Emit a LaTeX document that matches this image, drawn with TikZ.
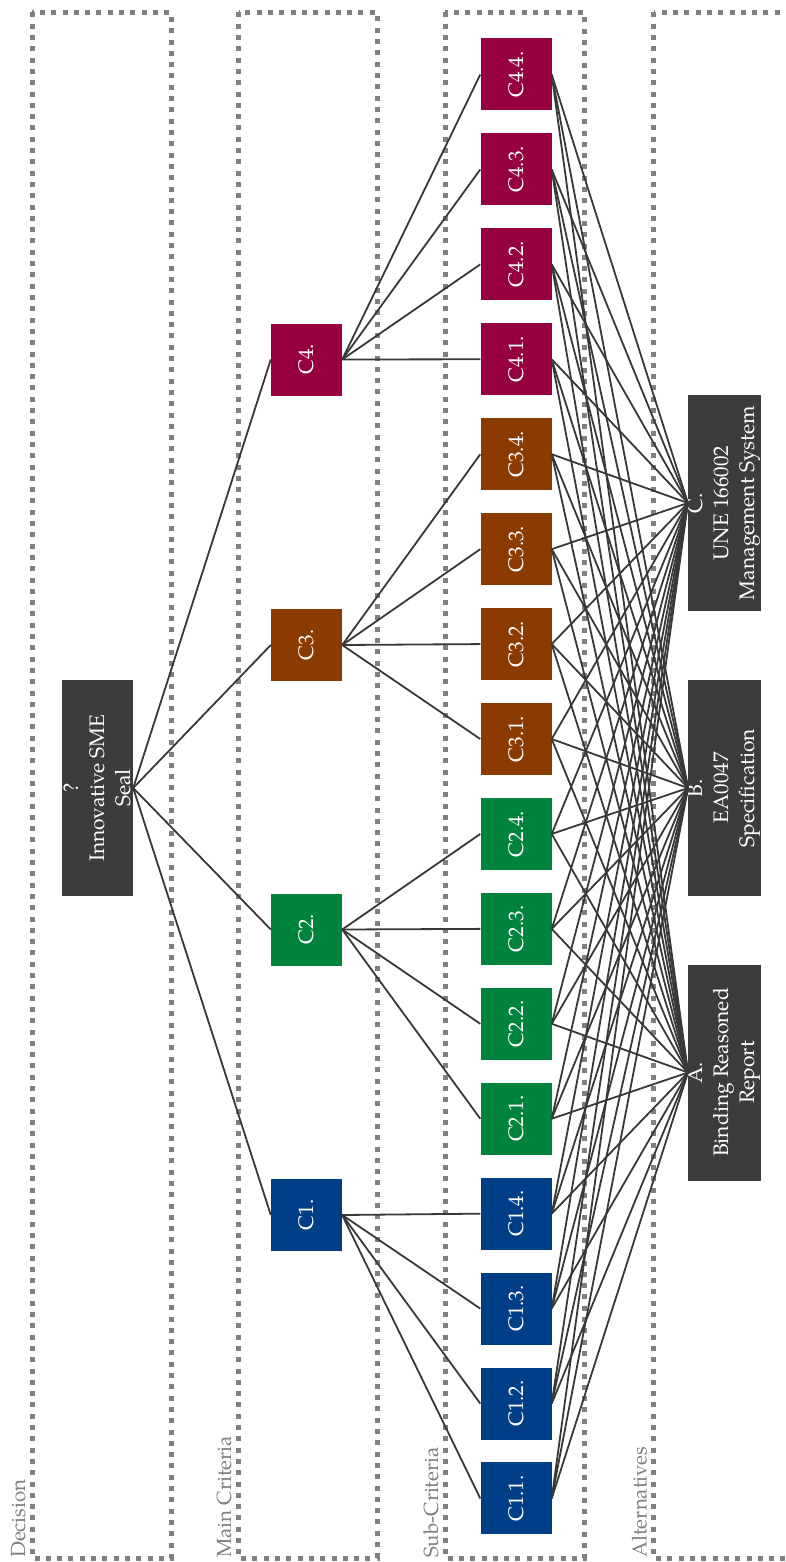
\documentclass[tikz,border=0pt]{standalone}
\usepackage{fontspec}
\setmainfont{TeX Gyre Pagella}
\definecolor{crit1}{HTML}{003F87}
\definecolor{crit2}{HTML}{00843D}
\definecolor{crit3}{HTML}{8C3B00}
\definecolor{crit4}{HTML}{970040}
\definecolor{darkbox}{HTML}{3C3C3C}
\definecolor{linkgray}{HTML}{383838}
\definecolor{framegray}{HTML}{808080}
\begin{document}
\begin{tikzpicture}[x=1pt,y=-1pt,
  % boxes are rotated by 90 degrees: their north side faces left, south faces right
  boxbase/.style={rotate=90, text=white, inner sep=0pt, align=center,
    font=\fontsize{21}{26}\selectfont},
  smallbox/.style={boxbase, minimum width=72pt, minimum height=71pt},
  bigbox/.style={boxbase, fill=darkbox, minimum width=216pt, minimum height=71pt},
  layerframe/.style={draw=framegray, line width=5pt, dash pattern=on 5pt off 6.3pt},
  layerlabel/.style={rotate=90, anchor=base west, inner sep=0pt, text=framegray,
    font=\fontsize{20.5}{24}\selectfont},
  link/.style={draw=linkgray, line width=1.8pt}
]
\useasboundingbox (0,0) rectangle (785,1562);
\clip (0,0) rectangle (785,1562);

% dotted level frames
\draw[layerframe] (32,12.5) rectangle (171,1558);
\draw[layerframe] (238.5,12.5) rectangle (377,1558);
\draw[layerframe] (445,12.5) rectangle (584.5,1558);
\draw[layerframe] (653.5,12.5) rectangle (900,1558);

% level captions
\node[layerlabel] (lblDec) at (25,1558) {Decision};
\node[layerlabel] (lblMain) at (231,1558) {Main Criteria};
\node[layerlabel] (lblSub) at (438,1558) {Sub-Criteria};
\node[layerlabel] (lblAlt) at (646.5,1558) {Alternatives};

% decision
\node[bigbox] (dec) at (97.5,788) {?\\Innovative SME\\Seal};

% main criteria
\node[smallbox, fill=crit4] (m4) at (306.5,359.5) {C4.};
\node[smallbox, fill=crit3] (m3) at (306.5,645) {C3.};
\node[smallbox, fill=crit2] (m2) at (306.5,929.5) {C2.};
\node[smallbox, fill=crit1] (m1) at (306.5,1215) {C1.};

% sub-criteria, top (C4.4.) to bottom (C1.1.)
\foreach \k in {0,...,15} {
  \pgfmathtruncatemacro\g{4-int(\k/4)}
  \pgfmathtruncatemacro\j{4-mod(\k,4)}
  \node[smallbox, fill=crit\g] (s\g\j) at (516, 74.5+94.93*\k) {C\g.\j.};
}

% alternatives
\node[bigbox] (altC) at (724.5,503) {C.\\UNE 166002\\Management System};
\node[bigbox] (altB) at (724.5,788) {B.\\EA0047\\Specification};
\node[bigbox] (altA) at (724.5,1072.5) {A.\\Binding Reasoned\\Report};

% connectors
\foreach \g in {1,...,4}
  \draw[link] (dec.south) -- (m\g.north);
\foreach \g in {1,...,4} {
  \foreach \j in {1,...,4} {
    \draw[link] (m\g.south) -- (s\g\j.north);
    \foreach \a in {A,B,C}
      \draw[link] (s\g\j.south) -- (alt\a.north);
  }
}
\end{tikzpicture}
\end{document}
